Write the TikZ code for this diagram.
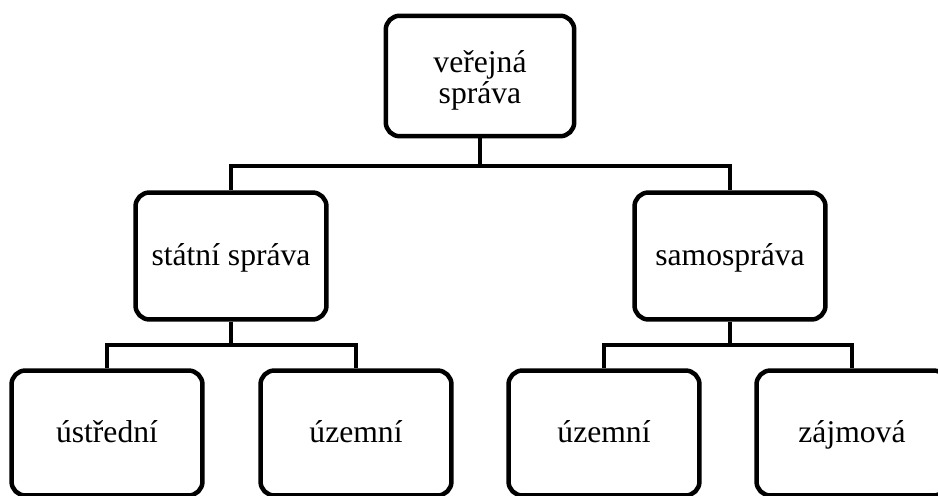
\documentclass[tikz,border=0pt]{standalone}
\usepackage{fontspec}
\setmainfont{Liberation Serif}
\begin{document}
\begin{tikzpicture}[
    x=0.02cm, y=-0.02cm,
    box/.style={rectangle, rounded corners=0.28cm, draw, line width=0.09cm, align=center,
        minimum width=3.82cm, minimum height=2.54cm, inner sep=0pt,
        font=\fontsize{18}{17.6}\selectfont},
    oneline/.style={box, text height=0.55cm, text depth=0.15cm},
    link/.style={line width=0.09cm}
]
\useasboundingbox (0,0) rectangle (938,496);

\node[box, minimum width=3.77cm, minimum height=2.41cm] (verejna) at (480,76) {\rule{0pt}{0.6cm}veřejná\\správa};
\node[oneline] (statni) at (231,256) {státní správa};
\node[oneline] (samo) at (730,256) {samospráva};
\node[oneline, minimum height=2.5cm] (ustr) at (107,433) {ústřední};
\node[oneline, minimum height=2.5cm] (uzem1) at (356,433) {územní};
\node[oneline, minimum height=2.5cm] (uzem2) at (604,433) {územní};
\node[oneline, minimum height=2.5cm] (zajm) at (852,433) {zájmová};

\coordinate (bartop) at (480,166);
\coordinate (barleft) at (231,345);
\coordinate (barright) at (730,345);

\draw[link] (verejna.south) -- (bartop);
\draw[link] (bartop) -| (statni.north);
\draw[link] (bartop) -| (samo.north);
\draw[link] (statni.south) -- (barleft);
\draw[link] (barleft) -| (ustr.north);
\draw[link] (barleft) -| (uzem1.north);
\draw[link] (samo.south) -- (barright);
\draw[link] (barright) -| (uzem2.north);
\draw[link] (barright) -| (zajm.north);

\end{tikzpicture}
\end{document}
